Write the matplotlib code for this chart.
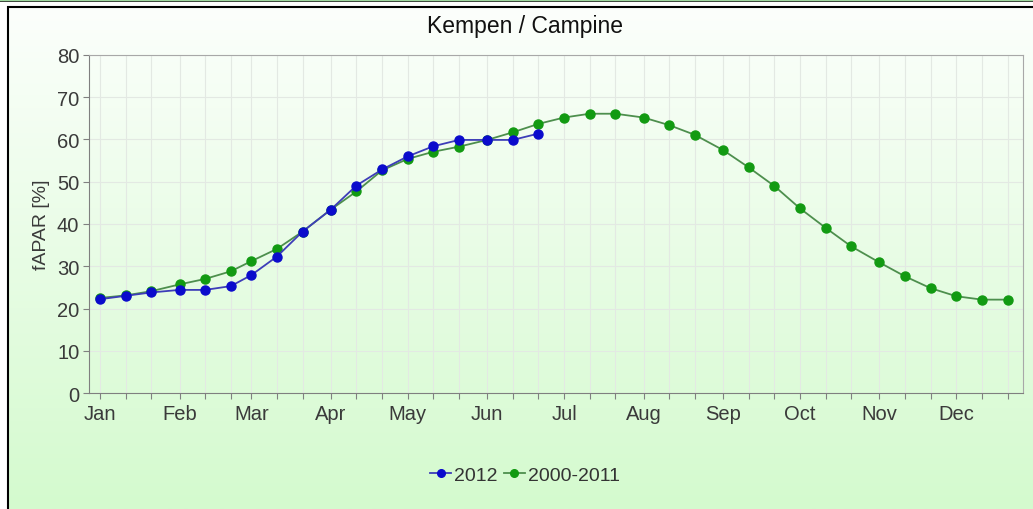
import numpy as np
import matplotlib.pyplot as plt
from matplotlib.lines import Line2D
from matplotlib.patches import Rectangle
from matplotlib import rcParams

rcParams['font.family'] = ['Liberation Sans', 'DejaVu Sans']

# dekads: 1st, 11th, 21st of each month
months = ['Jan', 'Feb', 'Mar', 'Apr', 'May', 'Jun',
          'Jul', 'Aug', 'Sep', 'Oct', 'Nov', 'Dec']
month_start = [0, 31, 59, 90, 120, 151, 181, 212, 243, 273, 304, 334]
dekad_offset = [0, 10, 20]

fapar_2012 = [22.2, 23.0, 23.8, 24.4, 24.4, 25.3, 27.9, 32.3, 38.2,
              43.4, 49.1, 52.9, 56.0, 58.4, 59.9, 59.9, 59.9, 61.4]

fapar_mean = [22.5, 23.1, 24.1, 25.7, 27.0, 28.8, 31.2, 34.1, 38.2,
              43.4, 47.7, 52.7, 55.4, 57.1, 58.3, 59.9, 61.7, 63.7,
              65.2, 66.1, 66.1, 65.2, 63.4, 61.1, 57.5, 53.4, 49.0,
              43.7, 39.1, 34.7, 30.9, 27.6, 24.8, 22.9, 22.1, 22.1]

days = np.array([m + d for m in month_start for d in dekad_offset])

W, H = 1033, 510
fig = plt.figure(figsize=(W / 100, H / 100), dpi=100)
fig.patch.set_facecolor('white')

# gradient background inside the outer frame
bg = fig.add_axes([8 / W, 0, 1 - 8 / W, 1 - 8 / H], zorder=-10)
grad = np.linspace(0, 1, 256)[:, None, None]
top_c = np.array([252, 255, 252]) / 255
bot_c = np.array([212, 250, 206]) / 255
img = top_c * (1 - grad) + bot_c * grad
bg.imshow(img, aspect='auto', extent=[0, 1, 0, 1], origin='upper')
bg.set_axis_off()
fig.add_artist(Rectangle((8 / W, -0.01), 1.0, 1 - 8 / H + 0.01,
                         transform=fig.transFigure, fill=False,
                         edgecolor='black', linewidth=1.5, zorder=5))
fig.add_artist(Line2D([0, 1], [1 - 2 / H, 1 - 2 / H], transform=fig.transFigure,
                      color='black', linewidth=1.2))
fig.add_artist(Line2D([0, 1], [1 - 0.5 / H, 1 - 0.5 / H], transform=fig.transFigure,
                      color='#9fd89f', linewidth=1.0))

ax = fig.add_axes([89 / W, 1 - 394 / H, (1023 - 89) / W, (394 - 56) / H])
ax.patch.set_alpha(0)

ax.plot(days, fapar_mean, color='#4d8f4d', linewidth=1.3, marker='o',
        markersize=6.5, markerfacecolor='#129a12', markeredgecolor='#129a12',
        zorder=3)
ax.plot(days[:len(fapar_2012)], fapar_2012, color='#3d3db8', linewidth=1.3,
        marker='o', markersize=6.5, markerfacecolor='#0b0bcc',
        markeredgecolor='#0b0bcc', zorder=4)

ax.set_xlim(-4.3, 360)
ax.set_ylim(0, 80)
ax.set_yticks(np.arange(0, 81, 10))
ax.set_xticks(days, minor=True)
ax.set_xticks(month_start)
ax.set_xticklabels(months)
ax.grid(True, which='both', axis='x', color='#e3e9e3', linewidth=0.8, linestyle='-')
ax.grid(True, which='major', axis='y', color='#e3e9e3', linewidth=0.8, linestyle='-')
ax.set_axisbelow(True)

ax.tick_params(axis='both', which='both', direction='out', length=4,
               width=0.8, color='#808080', labelsize=14.5, labelcolor='#3a3a3a')
ax.tick_params(axis='x', which='major', pad=4)
ax.tick_params(axis='y', pad=3)
for s in ['left', 'bottom']:
    ax.spines[s].set_color('#7f7f7f')
for s in ['top', 'right']:
    ax.spines[s].set_color('#a8a8a8')

ax.set_ylabel('fAPAR [%]', fontsize=14, color='#3a3a3a', labelpad=5)
fig.text(525 / W, 1 - 27 / H, 'Kempen / Campine', ha='center', va='center',
         fontsize=16.5, color='#111111')

handles = [
    Line2D([], [], color='#3d3db8', linewidth=1.3, marker='o', markersize=5.5,
           markerfacecolor='#0b0bcc', markeredgecolor='#0b0bcc', label='2012'),
    Line2D([], [], color='#4d8f4d', linewidth=1.3, marker='o', markersize=5.5,
           markerfacecolor='#129a12', markeredgecolor='#129a12', label='2000-2011'),
]
leg = fig.legend(handles=handles, loc='center', bbox_to_anchor=(525 / W, 1 - 476 / H),
                 ncol=2, frameon=False, fontsize=14, handlelength=1.1,
                 handletextpad=0.15, columnspacing=0.3)
for t in leg.get_texts():
    t.set_color('#333333')

fig.savefig('out.png', dpi=100)
